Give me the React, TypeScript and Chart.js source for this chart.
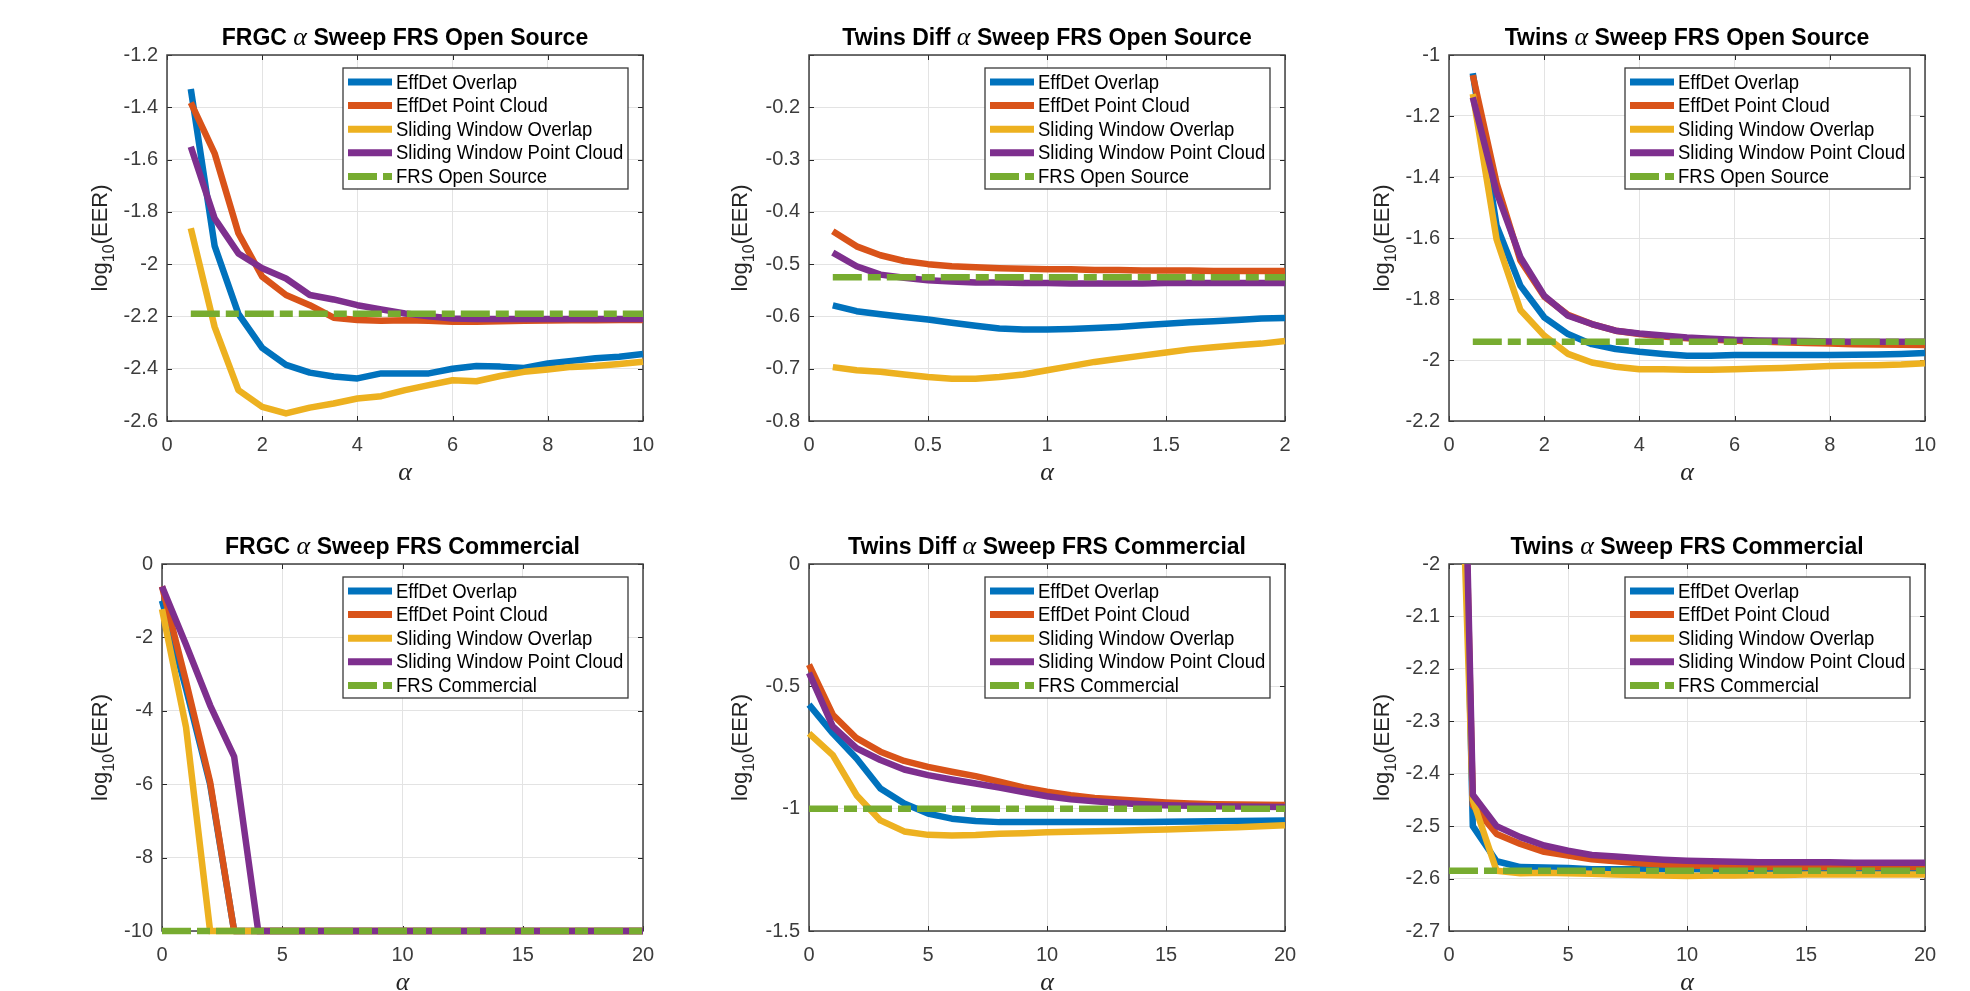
import React, { useEffect, useRef } from 'react';
import { Chart, registerables } from 'chart.js';

Chart.register(...registerables);

// ---------- shared labels / colours ----------
const SERIES_LABELS = [
  'EffDet Overlap',
  'EffDet Point Cloud',
  'Sliding Window Overlap',
  'Sliding Window Point Cloud',
];
const SERIES_COLORS = ['#0072BD', '#D95319', '#EDB120', '#7E2F8E'];
const REF_COLOR = '#77AC30';
const REF_OPEN = 'FRS Open Source';
const REF_COMMERCIAL = 'FRS Commercial';

// ---------- Panel 1: FRGC α Sweep FRS Open Source ----------
const frgcOpenAlpha = [0.5, 1, 1.5, 2, 2.5, 3, 3.5, 4, 4.5, 5, 5.5, 6, 6.5, 7, 7.5, 8, 8.5, 9, 9.5, 10];
const frgcOpenEffOverlap = [-1.33, -1.93, -2.19, -2.32, -2.385, -2.415, -2.43, -2.437, -2.418, -2.418, -2.418, -2.4, -2.39, -2.392, -2.397, -2.38, -2.37, -2.36, -2.354, -2.344];
const frgcOpenEffCloud = [-1.382, -1.576, -1.882, -2.048, -2.118, -2.157, -2.205, -2.214, -2.217, -2.215, -2.217, -2.22, -2.22, -2.218, -2.217, -2.216, -2.215, -2.215, -2.214, -2.214];
const frgcOpenSwOverlap = [-1.863, -2.24, -2.482, -2.546, -2.571, -2.549, -2.533, -2.514, -2.505, -2.482, -2.463, -2.444, -2.448, -2.428, -2.412, -2.403, -2.393, -2.39, -2.382, -2.373];
const frgcOpenSwCloud = [-1.551, -1.825, -1.959, -2.016, -2.055, -2.118, -2.135, -2.157, -2.173, -2.189, -2.199, -2.208, -2.21, -2.21, -2.21, -2.21, -2.21, -2.21, -2.21, -2.21];
const frgcOpenRef = -2.19;

// ---------- Panel 2: Twins Diff α Sweep FRS Open Source ----------
const twinsDiffOpenAlpha = [0.1, 0.2, 0.3, 0.4, 0.5, 0.6, 0.7, 0.8, 0.9, 1.0, 1.1, 1.2, 1.3, 1.4, 1.5, 1.6, 1.7, 1.8, 1.9, 2.0];
const twinsDiffOpenEffOverlap = [-0.579, -0.59, -0.596, -0.601, -0.606, -0.612, -0.618, -0.623, -0.625, -0.625, -0.624, -0.622, -0.62, -0.617, -0.614, -0.611, -0.609, -0.607, -0.604, -0.603];
const twinsDiffOpenEffCloud = [-0.437, -0.466, -0.483, -0.494, -0.5, -0.504, -0.506, -0.508, -0.509, -0.51, -0.51, -0.511, -0.511, -0.512, -0.512, -0.512, -0.513, -0.513, -0.513, -0.513];
const twinsDiffOpenSwOverlap = [-0.697, -0.703, -0.706, -0.711, -0.716, -0.719, -0.719, -0.716, -0.711, -0.703, -0.695, -0.687, -0.681, -0.675, -0.669, -0.663, -0.659, -0.655, -0.652, -0.647];
const twinsDiffOpenSwCloud = [-0.478, -0.504, -0.52, -0.526, -0.531, -0.533, -0.535, -0.535, -0.536, -0.536, -0.537, -0.537, -0.537, -0.537, -0.536, -0.536, -0.536, -0.536, -0.536, -0.536];
const twinsDiffOpenRef = -0.525;

// ---------- Panel 3: Twins α Sweep FRS Open Source ----------
const twinsOpenAlpha = [0.5, 1, 1.5, 2, 2.5, 3, 3.5, 4, 4.5, 5, 5.5, 6, 6.5, 7, 7.5, 8, 8.5, 9, 9.5, 10];
const twinsOpenEffOverlap = [-1.06, -1.56, -1.756, -1.86, -1.915, -1.948, -1.964, -1.973, -1.98, -1.986, -1.986, -1.984, -1.984, -1.984, -1.984, -1.984, -1.983, -1.982, -1.98, -1.977];
const twinsOpenEffCloud = [-1.066, -1.42, -1.674, -1.792, -1.852, -1.882, -1.904, -1.915, -1.923, -1.929, -1.933, -1.937, -1.939, -1.942, -1.944, -1.946, -1.948, -1.949, -1.95, -1.951];
const twinsOpenSwOverlap = [-1.128, -1.605, -1.836, -1.92, -1.98, -2.008, -2.022, -2.03, -2.03, -2.032, -2.032, -2.03, -2.028, -2.026, -2.023, -2.02, -2.018, -2.017, -2.015, -2.011];
const twinsOpenSwCloud = [-1.139, -1.45, -1.663, -1.789, -1.855, -1.882, -1.904, -1.913, -1.92, -1.926, -1.93, -1.934, -1.936, -1.937, -1.938, -1.939, -1.94, -1.94, -1.94, -1.94];
const twinsOpenRef = -1.94;

// ---------- Panel 4: FRGC α Sweep FRS Commercial ----------
const frgcComAlpha = [0, 1, 2, 3, 4, 5, 6, 7, 8, 9, 10, 11, 12, 13, 14, 15, 16, 17, 18, 19, 20];
const frgcComEffOverlap = [-1.0, -3.4, -6.0, -10, -10, -10, -10, -10, -10, -10, -10, -10, -10, -10, -10, -10, -10, -10, -10, -10, -10];
const frgcComEffCloud = [-0.61, -3.2, -5.94, -10, -10, -10, -10, -10, -10, -10, -10, -10, -10, -10, -10, -10, -10, -10, -10, -10, -10];
const frgcComSwOverlap = [-1.23, -4.45, -10, -10, -10, -10, -10, -10, -10, -10, -10, -10, -10, -10, -10, -10, -10, -10, -10, -10, -10];
const frgcComSwCloud = [-0.61, -2.2, -3.85, -5.25, -10, -10, -10, -10, -10, -10, -10, -10, -10, -10, -10, -10, -10, -10, -10, -10, -10];
const frgcComRef = -10;

// ---------- Panel 5: Twins Diff α Sweep FRS Commercial ----------
const twinsDiffComAlpha = [0, 1, 2, 3, 4, 5, 6, 7, 8, 9, 10, 11, 12, 13, 14, 15, 16, 17, 18, 19, 20];
const twinsDiffComEffOverlap = [-0.575, -0.692, -0.795, -0.918, -0.979, -1.02, -1.041, -1.05, -1.055, -1.055, -1.055, -1.055, -1.055, -1.055, -1.054, -1.053, -1.052, -1.051, -1.05, -1.049, -1.048];
const twinsDiffComEffCloud = [-0.411, -0.616, -0.712, -0.767, -0.805, -0.829, -0.849, -0.867, -0.89, -0.913, -0.931, -0.945, -0.956, -0.962, -0.969, -0.975, -0.979, -0.982, -0.983, -0.984, -0.985];
const twinsDiffComSwOverlap = [-0.692, -0.781, -0.945, -1.048, -1.093, -1.107, -1.11, -1.108, -1.103, -1.1, -1.096, -1.094, -1.092, -1.09, -1.087, -1.085, -1.082, -1.079, -1.076, -1.072, -1.068];
const twinsDiffComSwCloud = [-0.445, -0.664, -0.753, -0.801, -0.84, -0.863, -0.881, -0.897, -0.914, -0.932, -0.949, -0.962, -0.97, -0.977, -0.982, -0.986, -0.988, -0.99, -0.991, -0.992, -0.993];
const twinsDiffComRef = -1.0;

// ---------- Panel 6: Twins α Sweep FRS Commercial ----------
const twinsComAlpha = [0, 1, 2, 3, 4, 5, 6, 7, 8, 9, 10, 11, 12, 13, 14, 15, 16, 17, 18, 19, 20];
const twinsComEffOverlap = [-0.5, -2.5, -2.567, -2.578, -2.579, -2.58, -2.582, -2.582, -2.582, -2.582, -2.582, -2.582, -2.583, -2.583, -2.583, -2.583, -2.583, -2.583, -2.583, -2.583, -2.583];
const twinsComEffCloud = [-0.5, -2.46, -2.515, -2.534, -2.549, -2.556, -2.563, -2.567, -2.571, -2.573, -2.575, -2.576, -2.577, -2.578, -2.578, -2.578, -2.578, -2.578, -2.578, -2.578, -2.578];
const twinsComSwOverlap = [-1.05, -2.45, -2.585, -2.59, -2.589, -2.59, -2.591, -2.592, -2.593, -2.594, -2.595, -2.594, -2.594, -2.593, -2.593, -2.592, -2.592, -2.592, -2.592, -2.592, -2.592];
const twinsComSwCloud = [-0.44, -2.44, -2.5, -2.521, -2.537, -2.547, -2.555, -2.558, -2.561, -2.564, -2.566, -2.567, -2.568, -2.569, -2.569, -2.569, -2.569, -2.57, -2.57, -2.57, -2.57];
const twinsComRef = -2.585;

// ---------- layout / panel configuration ----------
type Panel = {
  pre: string;
  post: string;
  refLabel: string;
  alpha: number[];
  series: number[][];
  ref: number;
  x: [number, number, number];
  y: [number, number, number];
  hideY?: number[];
  box: [number, number, number, number]; // L, T, R, B in page px
  yTitleGap: number;
};

const PANELS: Panel[] = [
  {
    pre: 'FRGC ', post: ' Sweep FRS Open Source', refLabel: REF_OPEN,
    alpha: frgcOpenAlpha,
    series: [frgcOpenEffOverlap, frgcOpenEffCloud, frgcOpenSwOverlap, frgcOpenSwCloud],
    ref: frgcOpenRef, x: [0, 10, 2], y: [-2.6, -1.2, 0.2],
    box: [167, 55, 643, 421], yTitleGap: 60,
  },
  {
    pre: 'Twins Diff ', post: ' Sweep FRS Open Source', refLabel: REF_OPEN,
    alpha: twinsDiffOpenAlpha,
    series: [twinsDiffOpenEffOverlap, twinsDiffOpenEffCloud, twinsDiffOpenSwOverlap, twinsDiffOpenSwCloud],
    ref: twinsDiffOpenRef, x: [0, 2, 0.5], y: [-0.8, -0.1, 0.1], hideY: [-0.1],
    box: [809, 55, 1285, 421], yTitleGap: 62,
  },
  {
    pre: 'Twins ', post: ' Sweep FRS Open Source', refLabel: REF_OPEN,
    alpha: twinsOpenAlpha,
    series: [twinsOpenEffOverlap, twinsOpenEffCloud, twinsOpenSwOverlap, twinsOpenSwCloud],
    ref: twinsOpenRef, x: [0, 10, 2], y: [-2.2, -1, 0.2],
    box: [1449, 55, 1925, 421], yTitleGap: 60,
  },
  {
    pre: 'FRGC ', post: ' Sweep FRS Commercial', refLabel: REF_COMMERCIAL,
    alpha: frgcComAlpha,
    series: [frgcComEffOverlap, frgcComEffCloud, frgcComSwOverlap, frgcComSwCloud],
    ref: frgcComRef, x: [0, 20, 5], y: [-10, 0, 2],
    box: [162, 564, 643, 931], yTitleGap: 55,
  },
  {
    pre: 'Twins Diff ', post: ' Sweep FRS Commercial', refLabel: REF_COMMERCIAL,
    alpha: twinsDiffComAlpha,
    series: [twinsDiffComEffOverlap, twinsDiffComEffCloud, twinsDiffComSwOverlap, twinsDiffComSwCloud],
    ref: twinsDiffComRef, x: [0, 20, 5], y: [-1.5, 0, 0.5],
    box: [809, 564, 1285, 931], yTitleGap: 62,
  },
  {
    pre: 'Twins ', post: ' Sweep FRS Commercial', refLabel: REF_COMMERCIAL,
    alpha: twinsComAlpha,
    series: [twinsComEffOverlap, twinsComEffCloud, twinsComSwOverlap, twinsComSwCloud],
    ref: twinsComRef, x: [0, 20, 5], y: [-2.7, -2, 0.1],
    box: [1449, 564, 1925, 931], yTitleGap: 60,
  },
];

const PAD_LEFT = 140;
const PAD_TOP = 60;
const PAD_RIGHT = 24;
const PAD_BOTTOM = 70;
const LINE_W = 6.5;
const REF_DASH = [29, 6, 13, 6];
const SANS = '"Liberation Sans", Arial, sans-serif';
const SERIF = '"Liberation Serif", "Times New Roman", serif';

const fmt = (v: number) => String(Math.round(v * 1000) / 1000);

function makeDecor(p: Panel) {
  return {
    id: 'matlabDecor',
    beforeDatasetsDraw(chart: any) {
      const { ctx, chartArea: a, scales } = chart;
      ctx.save();
      // inward tick marks on all four sides
      ctx.strokeStyle = '#262626';
      ctx.lineWidth = 1;
      const tl = 5;
      ctx.beginPath();
      scales.x.ticks.forEach((t: any) => {
        const px = Math.round(scales.x.getPixelForValue(t.value)) + 0.5;
        ctx.moveTo(px, a.bottom); ctx.lineTo(px, a.bottom - tl);
        ctx.moveTo(px, a.top); ctx.lineTo(px, a.top + tl);
      });
      scales.y.ticks.forEach((t: any) => {
        const py = Math.round(scales.y.getPixelForValue(t.value)) + 0.5;
        ctx.moveTo(a.left, py); ctx.lineTo(a.left + tl, py);
        ctx.moveTo(a.right, py); ctx.lineTo(a.right - tl, py);
      });
      ctx.stroke();
      // axes box
      ctx.strokeStyle = '#404040';
      ctx.lineWidth = 1.5;
      ctx.strokeRect(a.left, a.top, a.right - a.left, a.bottom - a.top);
      ctx.restore();
    },
    afterDatasetsDraw(chart: any) {
      const { ctx, chartArea: a } = chart;
      ctx.save();
      // legend box (MATLAB style, inside top-right)
      const bw = 285, bh = 121;
      const bx = a.right - 15 - bw, by = a.top + 13;
      ctx.fillStyle = '#ffffff';
      ctx.fillRect(bx, by, bw, bh);
      ctx.strokeStyle = '#3a3a3a';
      ctx.lineWidth = 1.3;
      ctx.strokeRect(bx, by, bw, bh);
      const labels = [...SERIES_LABELS, p.refLabel];
      const colors = [...SERIES_COLORS, REF_COLOR];
      labels.forEach((lab, i) => {
        const cy = by + 14 + i * 23.6;
        ctx.beginPath();
        ctx.strokeStyle = colors[i];
        ctx.lineWidth = 7;
        ctx.lineCap = 'butt';
        ctx.setLineDash(i === 4 ? REF_DASH : []);
        ctx.moveTo(bx + 5, cy);
        ctx.lineTo(bx + 49, cy);
        ctx.stroke();
        ctx.setLineDash([]);
        ctx.save();
        ctx.translate(bx + 53, cy + 1);
        ctx.scale(0.925, 1);
        ctx.font = `20px ${SANS}`;
        ctx.fillStyle = '#000000';
        ctx.textBaseline = 'middle';
        ctx.textAlign = 'left';
        ctx.fillText(lab, 0, 0);
        ctx.restore();
      });
      ctx.restore();
    },
    afterDraw(chart: any) {
      const { ctx, chartArea: a } = chart;
      const cx = (a.left + a.right) / 2;
      ctx.save();
      ctx.fillStyle = '#000000';
      ctx.textBaseline = 'alphabetic';
      ctx.textAlign = 'left';
      // title
      const tFont = `bold 23px ${SANS}`;
      const aFont = `italic 26px ${SERIF}`;
      ctx.font = tFont;
      const w1 = ctx.measureText(p.pre).width;
      const w3 = ctx.measureText(p.post).width;
      ctx.font = aFont;
      const w2 = ctx.measureText('α').width;
      let x0 = cx - (w1 + w2 + w3) / 2;
      const ty = a.top - 10;
      ctx.font = tFont; ctx.fillText(p.pre, x0, ty); x0 += w1;
      ctx.font = aFont; ctx.fillText('α', x0, ty); x0 += w2;
      ctx.font = tFont; ctx.fillText(p.post, x0, ty);
      // x axis title
      ctx.fillStyle = '#262626';
      ctx.font = aFont;
      ctx.textAlign = 'center';
      ctx.fillText('α', cx, a.bottom + 59);
      // y axis title: log10(EER) with subscript
      const bigF = `22px ${SANS}`;
      const subF = `16px ${SANS}`;
      ctx.font = bigF;
      const s1 = ctx.measureText('log').width;
      const s3 = ctx.measureText('(EER)').width;
      ctx.font = subF;
      const s2 = ctx.measureText('10').width;
      const total = s1 + s2 + s3;
      ctx.translate(a.left - p.yTitleGap, (a.top + a.bottom) / 2);
      ctx.rotate(-Math.PI / 2);
      ctx.textAlign = 'left';
      let lx = -total / 2;
      ctx.font = bigF; ctx.fillText('log', lx, 0); lx += s1;
      ctx.font = subF; ctx.fillText('10', lx, 7); lx += s2;
      ctx.font = bigF; ctx.fillText('(EER)', lx, 0);
      ctx.restore();
    },
  };
}

function PanelChart({ p }: { p: Panel }) {
  const ref = useRef<HTMLCanvasElement | null>(null);
  const [L, T, R, B] = p.box;
  const W = R - L + PAD_LEFT + PAD_RIGHT;
  const H = B - T + PAD_TOP + PAD_BOTTOM;

  useEffect(() => {
    if (!ref.current) return;
    const datasets: any[] = p.series.map((vals, i) => ({
      label: SERIES_LABELS[i],
      data: vals.map((v, j) => ({ x: p.alpha[j], y: v })),
      borderColor: SERIES_COLORS[i],
      backgroundColor: SERIES_COLORS[i],
      borderWidth: LINE_W,
      pointRadius: 0,
      tension: 0,
      fill: false,
      borderJoinStyle: 'round',
      order: 5 - i,
      clip: { left: 4, top: 0, right: 4, bottom: 4 },
    }));
    datasets.push({
      label: p.refLabel,
      data: [
        { x: p.alpha[0], y: p.ref },
        { x: p.alpha[p.alpha.length - 1], y: p.ref },
      ],
      borderColor: REF_COLOR,
      backgroundColor: REF_COLOR,
      borderWidth: LINE_W,
      borderDash: REF_DASH,
      borderCapStyle: 'butt',
      pointRadius: 0,
      fill: false,
      order: 0,
      clip: { left: 4, top: 0, right: 4, bottom: 4 },
    });

    const tickFont = { family: SANS, size: 20 };
    const chart = new Chart(ref.current, {
      type: 'line',
      data: { datasets },
      plugins: [makeDecor(p)],
      options: {
        animation: false,
        responsive: false,
        maintainAspectRatio: false,
        devicePixelRatio: 1,
        events: [],
        layout: { padding: { left: 0, top: PAD_TOP, right: PAD_RIGHT, bottom: 0 } },
        plugins: {
          legend: { display: false },
          tooltip: { enabled: false },
          title: { display: false },
        },
        scales: {
          x: {
            type: 'linear',
            min: p.x[0],
            max: p.x[1],
            ticks: {
              stepSize: p.x[2],
              autoSkip: false,
              maxRotation: 0,
              padding: 12,
              color: '#3c3c3c',
              font: tickFont,
              callback: (v: any) => fmt(Number(v)),
            },
            grid: { color: '#e3e3e3', lineWidth: 1, drawTicks: false },
            border: { display: false },
            afterFit: (s: any) => { s.height = PAD_BOTTOM; },
          },
          y: {
            type: 'linear',
            min: p.y[0],
            max: p.y[1],
            ticks: {
              stepSize: p.y[2],
              autoSkip: false,
              padding: 9,
              color: '#3c3c3c',
              font: tickFont,
              callback: (v: any) => {
                const n = Math.round(Number(v) * 1000) / 1000;
                if (p.hideY && p.hideY.includes(n)) return '';
                return fmt(n);
              },
            },
            grid: { color: '#e3e3e3', lineWidth: 1, drawTicks: false },
            border: { display: false },
            afterFit: (s: any) => { s.width = PAD_LEFT; },
          },
        },
      } as any,
    } as any);
    return () => chart.destroy();
  }, []);

  return (
    <canvas
      ref={ref}
      width={W}
      height={H}
      style={{ position: 'absolute', left: L - PAD_LEFT, top: T - PAD_TOP, width: W, height: H }}
    />
  );
}

export default function App() {
  return (
    <div style={{ position: 'absolute', left: 0, top: 0, width: 1970, height: 991, background: '#ffffff' }}>
      {PANELS.map((p, i) => (
        <PanelChart key={i} p={p} />
      ))}
    </div>
  );
}
